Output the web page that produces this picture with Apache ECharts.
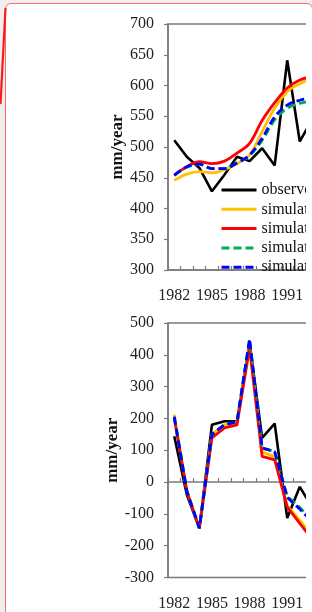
<!DOCTYPE html>
<html>
<head>
<meta charset="utf-8">
<script src="https://cdn.jsdelivr.net/npm/echarts@6/dist/echarts.min.js"></script>
<style>
  html, body { margin: 0; padding: 0; }
  body { width: 312px; height: 612px; overflow: hidden; position: relative; background: #efefef; }
  #card { position: absolute; left: 5px; top: 3px; width: 308px; height: 640px; background: #fff;
          border: 1.5px solid #ff6b6b; border-radius: 6px; box-sizing: border-box; }
  #stroke { position: absolute; left: 0; top: 0; }
  #clip { position: absolute; left: 0; top: 0; width: 306px; height: 612px; overflow: hidden; }
  #chart { width: 420px; height: 612px; }
</style>
</head>
<body>
<div id="card"></div>
<svg id="stroke" width="12" height="110"><line x1="0.5" y1="104" x2="5.5" y2="8" stroke="#ff1a1a" stroke-width="2.2"/></svg>
<div id="clip"><div id="chart"></div></div>
<script>
// 年份（图中只露出到1992左右，1993为右侧截断处的走向估计）
var years = ['1982', '1983', '1984', '1985', '1986', '1987', '1988', '1989', '1990', '1991', '1992', '1993'];
var names = ['observed', 'simulated-1', 'simulated-2', 'simulated-3', 'simulated-4'];
var colors = ['#000000', '#ffc000', '#ff0000', '#00b050', '#0000ff'];

// 上图：年值 (mm/year)
var obsTop  = [511, 484, 466, 428, 455, 484, 477, 498, 470, 641, 509, 545];
var sim1Top = [446, 456, 460, 458, 463, 473, 487, 525, 563, 590, 603, 612];
var sim2Top = [454, 468, 476, 473, 477, 490, 506, 543, 572, 596, 609, 615];
var sim3Top = [454, 467, 472, 465, 465, 474, 486, 511, 544, 563, 571, 575];
var sim4Top = [454, 468, 472, 465, 465, 474, 487, 514, 549, 568, 576, 580];

// 下图：距平 (mm/year)
var obsBot  = [144, -40, -145, 180, 191, 191, 440, 139, 184, -113, -15, -80];
var sim1Bot = [212, -25, -145, 150, 180, 188, 430, 95, 80, -75, -120, -170];
var sim2Bot = [200, -30, -145, 139, 170, 180, 422, 81, 70, -78, -130, -180];
var sim3Bot = [205, -28, -145, 150, 180, 190, 448, 107, 96, -45, -80, -120];
var sim4Bot = [205, -28, -145, 150, 180, 190, 450, 107, 96, -48, -85, -125];

var topTicks = { min: 300, max: 700, step: 50 };
var botTicks = { min: -300, max: 500, step: 100 };

var FONT = '"Liberation Serif", "Times New Roman", serif';
var AXIS = '#7a7a7a';

var chart = echarts.init(document.getElementById('chart'), null, { renderer: 'canvas' });

function xAxisCfg(gridIndex, showLabel, showLine, showTick) {
  return {
    type: 'category',
    gridIndex: gridIndex,
    data: years,
    position: 'bottom',
    boundaryGap: true,
    axisLine: { show: showLine, onZero: !showLabel, lineStyle: { color: AXIS, width: 1.5 } },
    axisTick: { show: showTick, inside: true, length: 4, interval: 0, lineStyle: { color: AXIS, width: 1.2 } },
    axisLabel: { show: showLabel, interval: 2, margin: 18, fontFamily: FONT, fontSize: 16, color: '#222' },
    splitLine: { show: false }
  };
}

function yAxisCfg(gridIndex, t) {
  return {
    type: 'value',
    gridIndex: gridIndex,
    min: t.min,
    max: t.max,
    interval: t.step,
    name: 'mm/year',
    nameLocation: 'middle',
    nameGap: 41,
    nameTextStyle: { fontFamily: FONT, fontSize: 17, fontWeight: 'bold', color: '#111' },
    axisLine: { show: true, lineStyle: { color: AXIS, width: 1.5 } },
    axisTick: { show: true, inside: false, length: 4, lineStyle: { color: AXIS, width: 1.2 } },
    axisLabel: { margin: 14, fontFamily: FONT, fontSize: 16, color: '#222' },
    splitLine: { show: false }
  };
}

function lineSeries(i, data, xIdx, yIdx, smooth) {
  var dashed = i >= 3;
  return {
    name: names[i],
    type: 'line',
    xAxisIndex: xIdx,
    yAxisIndex: yIdx,
    data: data,
    symbol: 'none',
    smooth: smooth && i > 0 ? 0.35 : false,
    lineStyle: { color: colors[i], width: i === 0 ? 2.6 : 2.8, type: dashed ? [8, 4] : 'solid' },
    itemStyle: { color: colors[i] },
    z: 2 + i
  };
}

var topData = [obsTop, sim1Top, sim2Top, sim3Top, sim4Top];
var botData = [obsBot, sim1Bot, sim2Bot, sim3Bot, sim4Bot];
var series = [];
topData.forEach(function (d, i) { series.push(lineSeries(i, d, 0, 0, true)); });
botData.forEach(function (d, i) { series.push(lineSeries(i, d, 2, 1, false)); });

chart.setOption({
  backgroundColor: 'transparent',
  animation: false,
  grid: [
    { left: 168, top: 24, width: 12.55 * years.length, height: 246, show: true, borderColor: AXIS, borderWidth: 1.5 },
    { left: 168, top: 323, width: 12.55 * years.length, height: 254.5, show: true, borderColor: AXIS, borderWidth: 1.5 }
  ],
  legend: {
    data: names,
    orient: 'vertical',
    left: 220,
    top: 182,
    itemWidth: 35,
    itemHeight: 14,
    itemGap: 3.3,
    padding: 0,
    itemStyle: { color: 'transparent', borderWidth: 0, opacity: 0 },
    lineStyle: { width: 3 },
    textStyle: { fontFamily: FONT, fontSize: 16, color: '#111' }
  },
  xAxis: [
    xAxisCfg(0, true, true, true),
    xAxisCfg(1, true, false, false),
    xAxisCfg(1, false, true, true)
  ],
  yAxis: [
    yAxisCfg(0, topTicks),
    yAxisCfg(1, botTicks)
  ],
  series: series
});
</script>
</body>
</html>
